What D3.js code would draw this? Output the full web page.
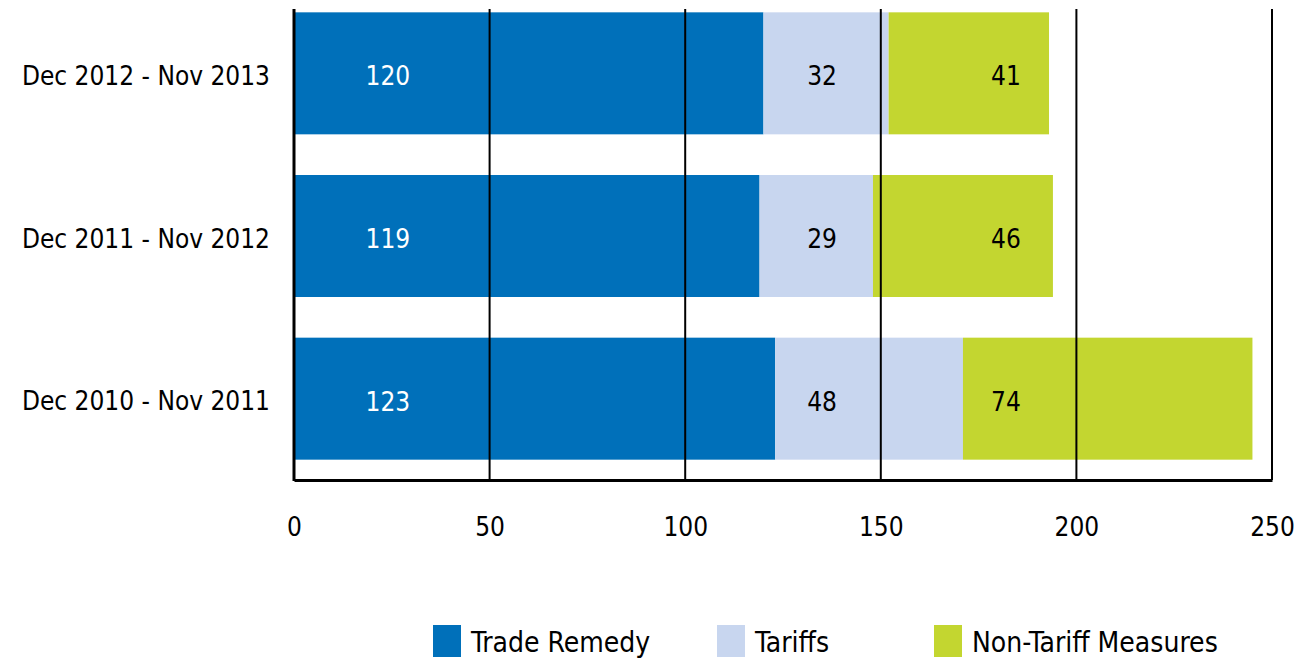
<!DOCTYPE html>
<html>
<head>
<meta charset="utf-8">
<script src="https://cdn.jsdelivr.net/npm/d3@7"></script>
<style>
  html, body { margin: 0; padding: 0; background: #fff; }
  svg text { font-family: "DejaVu Sans Condensed", "DejaVu Sans", sans-serif; font-stretch: condensed; }
</style>
</head>
<body>
<div id="chart"></div>
<script>
const periods = ["Dec 2012 - Nov 2013", "Dec 2011 - Nov 2012", "Dec 2010 - Nov 2011"];
const tradeRemedy = [120, 119, 123];
const tariffs = [32, 29, 48];
const nonTariff = [41, 46, 74];
const seriesNames = ["Trade Remedy", "Tariffs", "Non-Tariff Measures"];
const xTicks = [0, 50, 100, 150, 200, 250];

const colors = ["#0070ba", "#c8d6ef", "#c3d630"];
const labelColors = ["#fff", "#000", "#000"];
// where the value labels sit, in axis units (the source places them at fixed spots)
const labelAt = [24, 135, 182];

const width = 1304;
const height = 658;

const x = d3.scaleLinear().domain([0, 250]).range([294, 1272]);
const y = d3.scaleBand().domain(periods).range([-8, 480]).paddingInner(0.25).paddingOuter(0.125);

const svg = d3.select("#chart").append("svg")
  .attr("width", width)
  .attr("height", height);

const values = [tradeRemedy, tariffs, nonTariff];
const rows = periods.map((p, i) => {
  let start = 0;
  return values.map((s, k) => {
    const seg = { period: p, k, x0: start, x1: start + s[i], v: s[i] };
    start += s[i];
    return seg;
  });
});

// bars
svg.append("g").selectAll("g")
  .data(rows)
  .join("g")
  .selectAll("rect")
  .data(d => d)
  .join("rect")
  .attr("x", d => x(d.x0))
  .attr("width", d => x(d.x1) - x(d.x0))
  .attr("y", d => y(d.period))
  .attr("height", y.bandwidth())
  .attr("fill", d => colors[d.k]);

// gridlines drawn over the bars
svg.append("g")
  .selectAll("line")
  .data(xTicks.slice(1))
  .join("line")
  .attr("x1", d => x(d)).attr("x2", d => x(d))
  .attr("y1", 9).attr("y2", 480)
  .attr("stroke", "#000")
  .attr("stroke-width", 2);

// value labels
svg.append("g").selectAll("g")
  .data(rows)
  .join("g")
  .selectAll("text")
  .data(d => d)
  .join("text")
  .attr("x", d => x(labelAt[d.k]))
  .attr("y", d => y(d.period) + y.bandwidth() / 2 + 3)
  .attr("dy", "0.35em")
  .attr("text-anchor", "middle")
  .attr("font-size", 26)
  .attr("fill", d => labelColors[d.k])
  .text(d => d.v);

// x axis
const xAxis = svg.append("g")
  .attr("transform", "translate(0,480)")
  .call(d3.axisBottom(x).tickValues(xTicks).tickSize(0).tickPadding(38));
xAxis.select(".domain").attr("stroke-width", 3);
xAxis.selectAll("text").attr("font-size", 26).attr("fill", "#000");

// y axis
const yAxis = svg.append("g")
  .attr("transform", "translate(294,0)")
  .call(d3.axisLeft(y).tickSize(0).tickPadding(24));
yAxis.select(".domain").attr("d", "M0,9V481").attr("stroke-width", 3);
yAxis.selectAll("text").attr("font-size", 26).attr("fill", "#000").attr("dy", "0.45em");

// legend
const legendX = [433, 717, 934];
const legend = svg.append("g").selectAll("g")
  .data(seriesNames)
  .join("g")
  .attr("transform", (d, i) => `translate(${legendX[i]},625)`);
legend.append("rect")
  .attr("width", 28).attr("height", 32)
  .attr("fill", (d, i) => colors[i]);
legend.append("text")
  .attr("x", 38).attr("y", 17).attr("dy", "0.35em")
  .attr("font-size", 28)
  .text(d => d);
</script>
</body>
</html>
